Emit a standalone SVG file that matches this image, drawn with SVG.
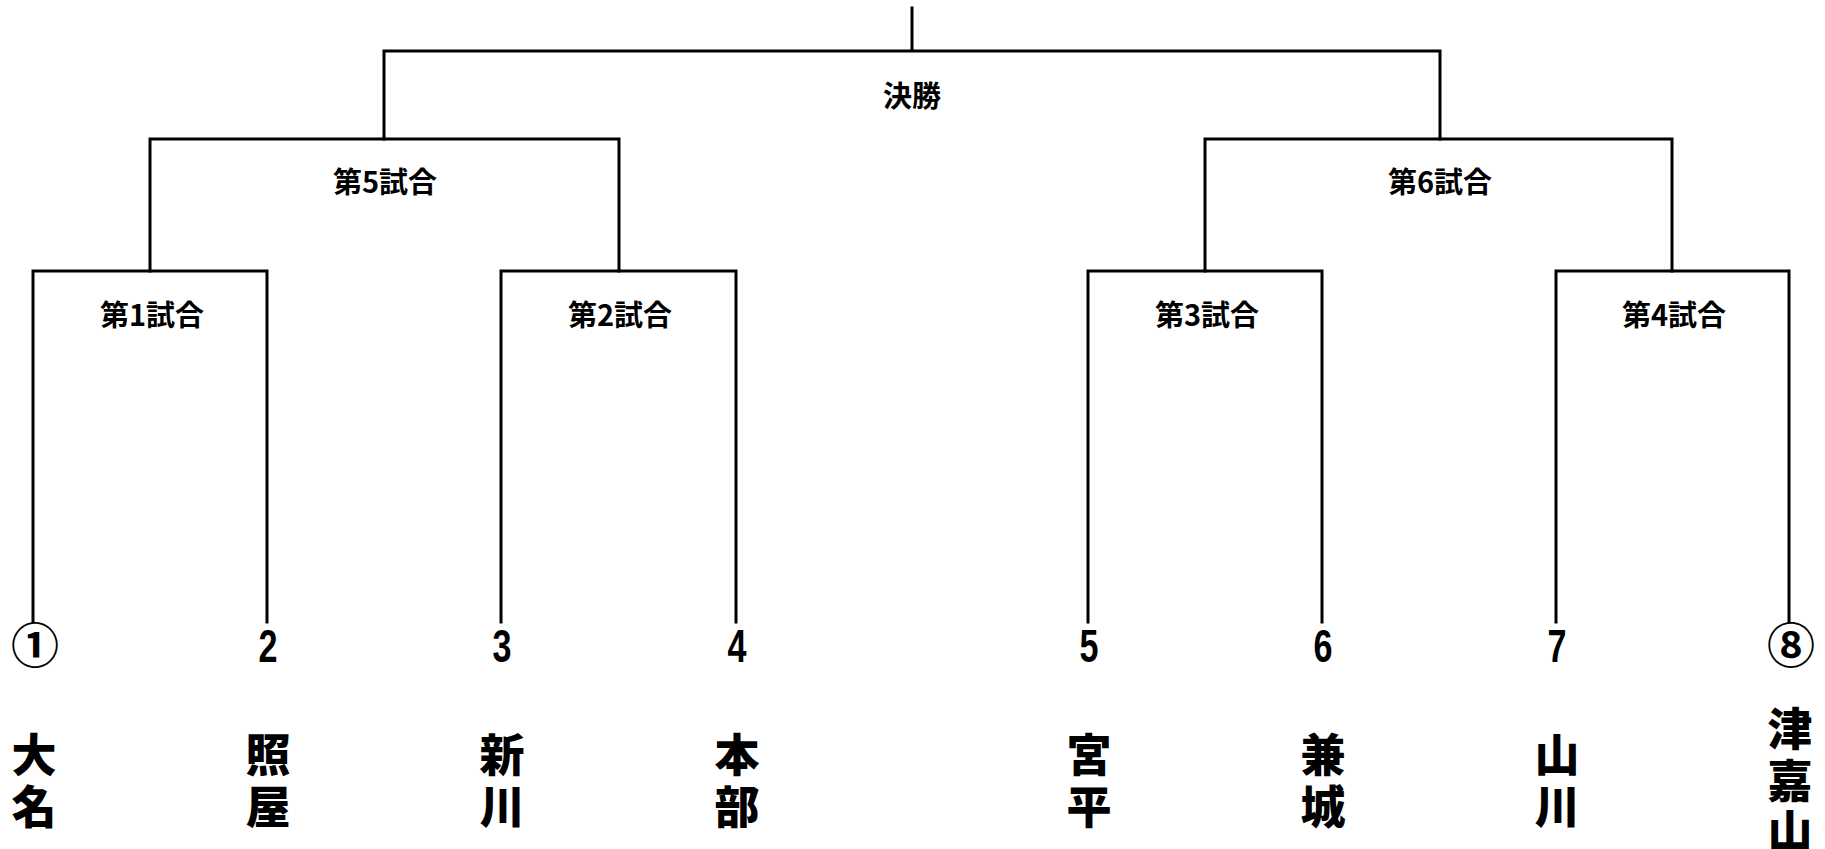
<svg xmlns="http://www.w3.org/2000/svg" width="1825" height="849" viewBox="0 0 1825 849">
<style>
.ln{fill:none;stroke:#000;stroke-width:3;stroke-linecap:square}
.lbl{font-family:"Noto Sans CJK JP","Liberation Sans",sans-serif;font-weight:bold;font-size:29px;text-anchor:middle;fill:#000}
.num{font-family:"Liberation Sans","Noto Sans CJK JP",sans-serif;font-weight:bold;font-size:46px;text-anchor:middle;fill:#000}
.cnum{font-family:"Noto Sans CJK JP",sans-serif;font-weight:bold;font-size:48px;text-anchor:middle;fill:#000}
.name{font-family:"Noto Sans CJK JP",sans-serif;font-weight:900;font-size:45px;text-anchor:middle;fill:#000}
</style>
<rect width="1825" height="849" fill="#fff"/>
<g id="connectors">
<path class="ln" d="M912 8V51M384 139V51H1440V139"/>
<path class="ln" d="M150 271V139H619V271"/>
<path class="ln" d="M1205 271V139H1672V271"/>
<path class="ln" d="M33 622V271H267V622"/>
<path class="ln" d="M501 622V271H736V622"/>
<path class="ln" d="M1088 622V271H1322V622"/>
<path class="ln" d="M1556 622V271H1789V622"/>
</g>
<g id="final"><text class="lbl" x="912" y="107">決勝</text></g>
<g id="match5"><text class="lbl" x="385" y="193">第5試合</text></g>
<g id="match6"><text class="lbl" x="1440" y="193">第6試合</text></g>
<g id="match1"><text class="lbl" x="152" y="326">第1試合</text></g>
<g id="match2"><text class="lbl" x="620" y="326">第2試合</text></g>
<g id="match3"><text class="lbl" x="1207" y="326">第3試合</text></g>
<g id="match4"><text class="lbl" x="1674" y="326">第4試合</text></g>
<g id="team1"><text class="cnum" x="35" y="663">①</text><text class="name" x="34" y="772">大</text><text class="name" x="34" y="824">名</text></g>
<g id="team2"><text class="num" x="268" y="662" textLength="19" lengthAdjust="spacingAndGlyphs">2</text><text class="name" x="268" y="772">照</text><text class="name" x="268" y="824">屋</text></g>
<g id="team3"><text class="num" x="502" y="662" textLength="19" lengthAdjust="spacingAndGlyphs">3</text><text class="name" x="502" y="772">新</text><text class="name" x="502" y="824">川</text></g>
<g id="team4"><text class="num" x="737" y="662" textLength="19" lengthAdjust="spacingAndGlyphs">4</text><text class="name" x="737" y="772">本</text><text class="name" x="737" y="824">部</text></g>
<g id="team5"><text class="num" x="1089" y="662" textLength="19" lengthAdjust="spacingAndGlyphs">5</text><text class="name" x="1089" y="772">宮</text><text class="name" x="1089" y="824">平</text></g>
<g id="team6"><text class="num" x="1323" y="662" textLength="19" lengthAdjust="spacingAndGlyphs">6</text><text class="name" x="1323" y="772">兼</text><text class="name" x="1323" y="824">城</text></g>
<g id="team7"><text class="num" x="1557" y="662" textLength="19" lengthAdjust="spacingAndGlyphs">7</text><text class="name" x="1557" y="772">山</text><text class="name" x="1557" y="824">川</text></g>
<g id="team8"><text class="cnum" x="1791" y="663">⑧</text><text class="name" x="1790" y="746">津</text><text class="name" x="1790" y="798">嘉</text><text class="name" x="1790" y="848">山</text></g>
</svg>
